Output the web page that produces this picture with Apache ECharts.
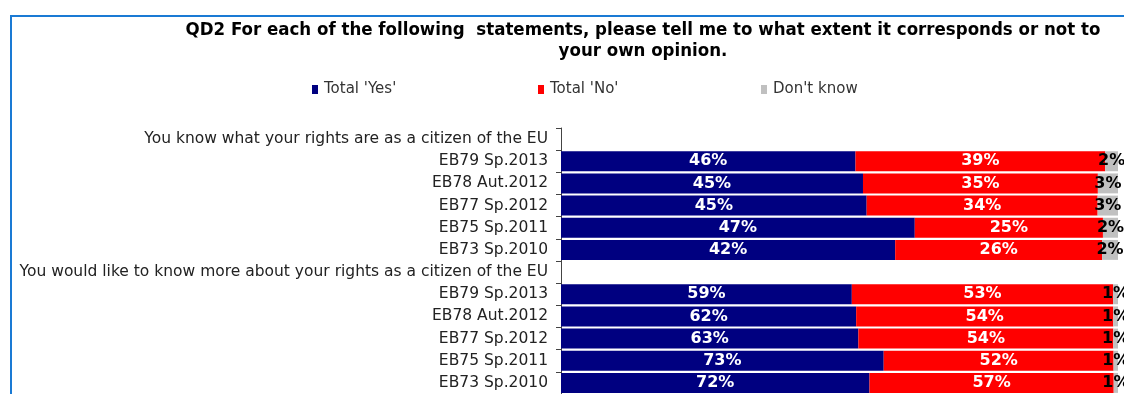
<!DOCTYPE html>
<html>
<head>
<meta charset="utf-8">
<script src="https://cdn.jsdelivr.net/npm/echarts@6/dist/echarts.min.js"></script>
<style>
  html, body { margin: 0; padding: 0; background: #ffffff; }
  #chart { width: 1124px; height: 394px; }
</style>
</head>
<body>
<div id="chart"></div>
<script>
// Row labels, top to bottom (two statement headers, each followed by five survey waves)
const categories = [
  'You know what your rights are as a citizen of the EU',
  'EB79 Sp.2013', 'EB78 Aut.2012', 'EB77 Sp.2012', 'EB75 Sp.2011', 'EB73 Sp.2010',
  'You would like to know more about your rights as a citizen of the EU',
  'EB79 Sp.2013', 'EB78 Aut.2012', 'EB77 Sp.2012', 'EB75 Sp.2011', 'EB73 Sp.2010'
];

// Survey results in percent (null on header rows)
const totalYes = [null, 46, 45, 45, 47, 42, null, 59, 62, 63, 73, 72];
const totalNo  = [null, 39, 35, 34, 25, 26, null, 53, 54, 54, 52, 57];
const dontKnow = [null, 2, 3, 3, 2, 2, null, 1, 1, 1, 1, 1];

const seriesNames = ["Total 'Yes'", "Total 'No'", "Don't know"];
const seriesColors = ['#000080', '#ff0000', '#c0c0c0'];
const seriesValues = [totalYes, totalNo, dontKnow];

// Each bar spans the full width: a segment's length is its share of the row sum
const rowTotals = categories.map((_, i) =>
  seriesValues.reduce((s, arr) => s + (arr[i] == null ? 0 : arr[i]), 0));

const FONT = 'DejaVu Sans';
const TITLE_FONT = 'DejaVu Sans Condensed, DejaVu Sans';

const series = seriesValues.map((arr, k) => ({
  name: seriesNames[k],
  type: 'bar',
  stack: 'total',
  barCategoryGap: '10%',
  itemStyle: { color: seriesColors[k] },
  label: {
    show: true,
    position: 'inside',
    color: k === 2 ? '#000000' : '#ffffff',
    fontFamily: FONT,
    fontWeight: 'bold',
    fontSize: 16,
    formatter: p => (p.data && p.data.raw != null) ? p.data.raw + '%' : ''
  },
  labelLayout: { hideOverlap: false },
  data: arr.map((v, i) => v == null ? { value: null } : { value: v / rowTotals[i], raw: v })
}));

const legendPos = [312, 538, 761];
const legends = seriesNames.map((n, k) => ({
  data: [n],
  left: legendPos[k],
  top: 82,
  itemWidth: 6,
  itemHeight: 9,
  itemGap: 0,
  icon: 'rect',
  padding: 0,
  textStyle: { fontFamily: FONT, fontSize: 15, color: '#333333', padding: [0, 0, 0, 1] }
}));

const chart = echarts.init(document.getElementById('chart'), null, { renderer: 'canvas' });
chart.setOption({
  animation: false,
  backgroundColor: '#ffffff',
  title: {
    text: 'QD2 For each of the following  statements, please tell me to what extent it corresponds or not to\nyour own opinion.',
    left: 638,
    textAlign: 'center',
    top: 15,
    textStyle: {
      fontFamily: TITLE_FONT,
      fontWeight: 'bold',
      fontSize: 18.5,
      lineHeight: 21,
      color: '#000000'
    }
  },
  legend: legends,
  grid: { left: 561, right: 6, top: 128, height: 268, containLabel: false },
  xAxis: { type: 'value', min: 0, max: 1, show: false },
  yAxis: {
    type: 'category',
    inverse: true,
    data: categories,
    axisLine: { show: true, lineStyle: { color: '#444444', width: 1 } },
    axisTick: { show: true, length: 5, lineStyle: { color: '#444444' } },
    axisLabel: { fontFamily: FONT, fontSize: 15.5, color: '#222222', margin: 13 }
  },
  series: series,
  graphic: [{
    type: 'polyline',
    shape: { points: [[11, 400], [11, 16], [1130, 16]] },
    style: { stroke: '#1a7ad4', lineWidth: 2, fill: null },
    silent: true
  }]
});
</script>
</body>
</html>
